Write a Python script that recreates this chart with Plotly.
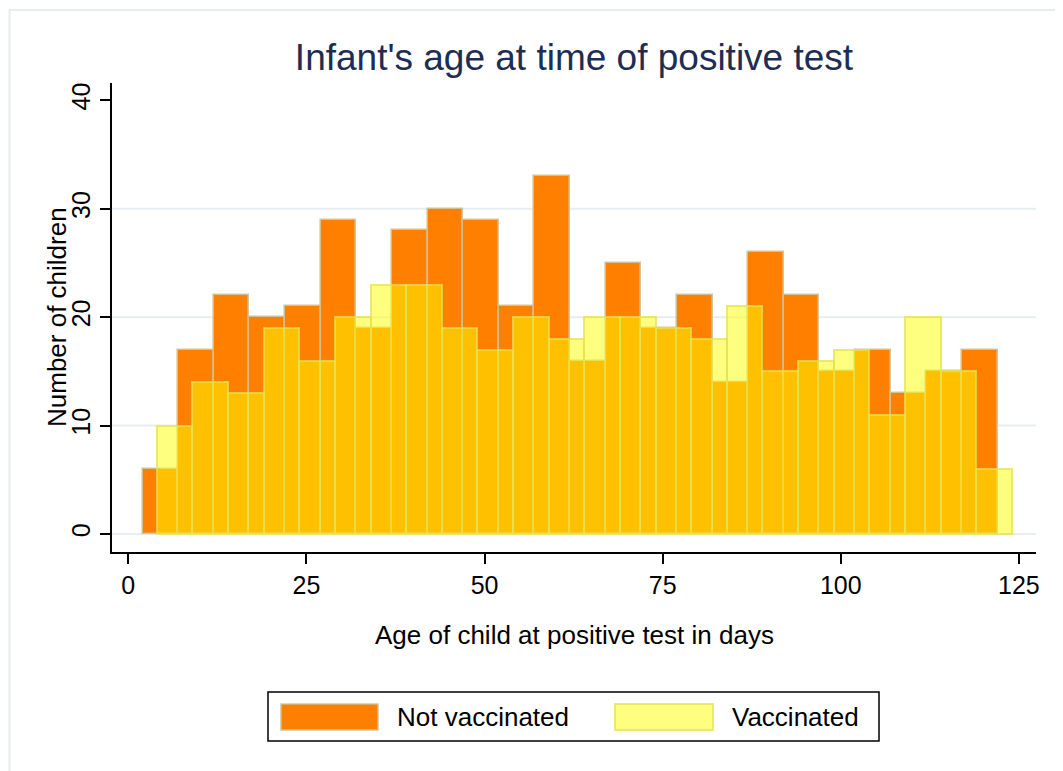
import plotly.graph_objects as go

# ---- data ----
bin_width = 5
not_vacc_left = [2, 7, 12, 17, 22, 27, 32, 37, 42, 47, 52, 57,
                 62, 67, 72, 77, 82, 87, 92, 97, 102, 107, 112, 117]
not_vacc_counts = [6, 17, 22, 20, 21, 29, 19, 28, 30, 29, 21, 33,
                   16, 25, 19, 22, 14, 26, 22, 15, 17, 13, 15, 17]
vacc_left = [4, 9, 14, 19, 24, 29, 34, 39, 44, 49, 54, 59,
             64, 69, 74, 79, 84, 89, 94, 99, 104, 109, 114, 119]
vacc_counts = [10, 14, 13, 19, 16, 20, 23, 23, 19, 17, 20, 18,
               20, 20, 19, 18, 21, 15, 16, 17, 11, 20, 15, 6]
x_ticks = [0, 25, 50, 75, 100, 125]
y_ticks = [0, 10, 20, 30, 40]
grid_vals = [0, 10, 20, 30]
series_names = ["Not vaccinated", "Vaccinated"]

# ---- layout geometry (pixels, page coordinates) ----
OFF = 8  # browser body margin
W, H = 1063 - OFF, 771 - OFF
L, R, T, B = 112, 1036, 83, 552
FONT = "Liberation Sans, Arial, Helvetica, sans-serif"

def px(xp):
    return (xp - L) / (R - L)

def py(yp):
    return (B - yp) / (B - T)

ORANGE = "#FF8000"
ORANGE_LINE = "rgba(205,195,150,0.9)"
YELLOW = "rgba(255,255,0,0.5)"
YELLOW_LINE = "rgba(228,225,80,0.75)"

fig = go.Figure()
fig.add_trace(go.Bar(
    x=not_vacc_left, y=not_vacc_counts, width=bin_width, offset=0,
    name=series_names[0], showlegend=False,
    marker=dict(color=ORANGE, line=dict(color=ORANGE_LINE, width=1.6)),
))
fig.add_trace(go.Bar(
    x=vacc_left, y=vacc_counts, width=bin_width, offset=0,
    name=series_names[1], showlegend=False,
    marker=dict(color=YELLOW, line=dict(color=YELLOW_LINE, width=2)),
))

shapes = []
for g in grid_vals:
    shapes.append(dict(type="line", xref="paper", yref="y", x0=0, x1=1, y0=g, y1=g,
                       line=dict(color="#E6EEF1", width=2), layer="below"))
border = dict(color="#E3ECEF", width=2)
shapes.append(dict(type="line", xref="paper", yref="paper", x0=px(9), x1=px(1061), y0=py(10), y1=py(10), line=border))
shapes.append(dict(type="line", xref="paper", yref="paper", x0=px(9.5), x1=px(9.5), y0=py(10), y1=py(775), line=border))
shapes.append(dict(type="line", xref="paper", yref="paper", x0=px(1061), x1=px(1061), y0=py(10), y1=py(775), line=border))
shapes.append(dict(type="rect", xref="paper", yref="paper", x0=px(268), x1=px(879), y0=py(741), y1=py(692),
                   line=dict(color="black", width=1.5), fillcolor="white"))
shapes.append(dict(type="rect", xref="paper", yref="paper", x0=px(281), x1=px(378), y0=py(730), y1=py(704),
                   line=dict(color=ORANGE_LINE, width=1.6), fillcolor=ORANGE))
shapes.append(dict(type="rect", xref="paper", yref="paper", x0=px(615), x1=px(713), y0=py(730), y1=py(704),
                   line=dict(color=YELLOW_LINE, width=2), fillcolor=YELLOW))

annotations = [
    dict(text="Age of child at positive test in days", xref="paper", yref="paper",
         x=0.5, y=py(635), xanchor="center", yanchor="middle", showarrow=False,
         font=dict(family=FONT, size=26, color="black")),
    dict(text="Number of children", xref="paper", yref="paper", textangle=-90,
         x=px(57), y=py(317), xanchor="center", yanchor="middle", showarrow=False,
         font=dict(family=FONT, size=26, color="black")),
    dict(text=series_names[0], xref="paper", yref="paper", x=px(395), y=py(717),
         xanchor="left", yanchor="middle", showarrow=False,
         font=dict(family=FONT, size=26, color="black")),
    dict(text=series_names[1], xref="paper", yref="paper", x=px(730), y=py(717),
         xanchor="left", yanchor="middle", showarrow=False,
         font=dict(family=FONT, size=26, color="black")),
]

fig.update_layout(
    width=W, height=H,
    margin=dict(l=L - OFF, r=1063 - R, t=T - OFF, b=771 - B, pad=0),
    paper_bgcolor="white", plot_bgcolor="white",
    barmode="overlay", bargap=0,
    title=dict(text="Infant's age at time of positive test", x=0.5, xref="paper",
               y=1 - (57 - OFF) / H, yref="container", xanchor="center", yanchor="middle",
               font=dict(family=FONT, size=37, color="#1E2D53")),
    font=dict(family=FONT, color="black"),
    shapes=shapes, annotations=annotations, showlegend=False,
)
fig.update_xaxes(range=[-2.29, 127.4], tickvals=x_ticks, ticks="outside", ticklen=10,
                 tickwidth=1.5, tickcolor="black", showline=True, linecolor="black",
                 linewidth=1.5, showgrid=False, zeroline=False,
                 tickfont=dict(family=FONT, size=25, color="black"))
fig.update_yaxes(range=[-1.66, 41.6], tickvals=y_ticks, ticks="outside", ticklen=10,
                 tickwidth=1.5, tickcolor="black", showline=True, linecolor="black",
                 linewidth=1.5, showgrid=False, zeroline=False, tickangle=-90,
                 tickfont=dict(family=FONT, size=25, color="black"))

fig.write_html("out.html")
